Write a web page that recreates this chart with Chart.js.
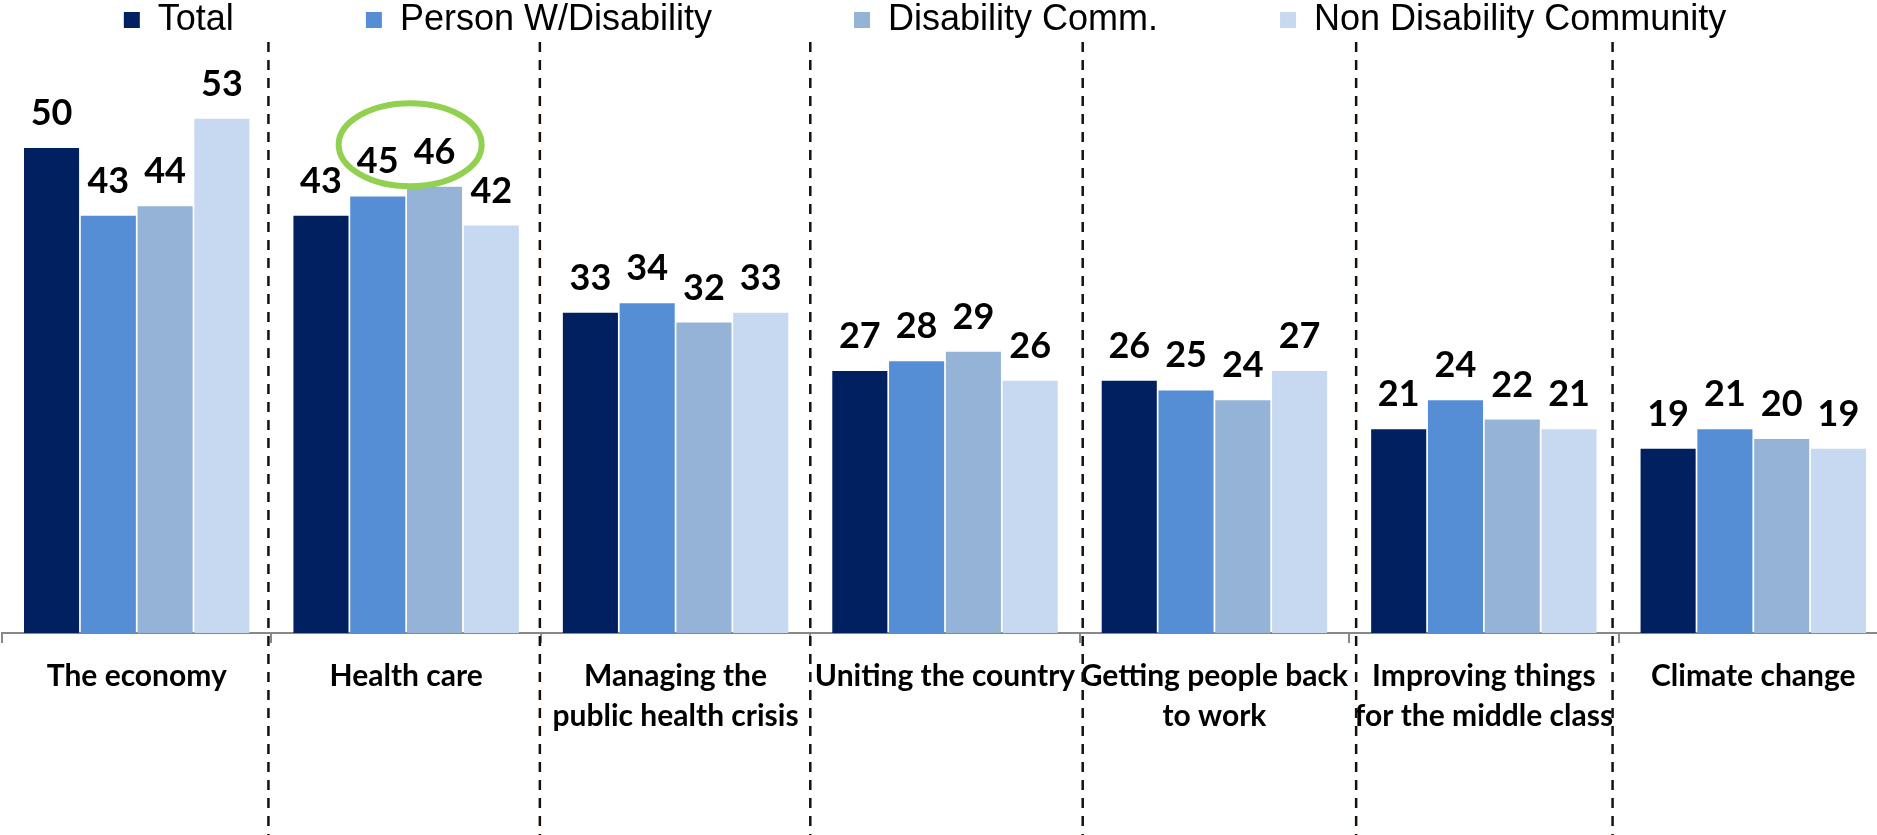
<!DOCTYPE html>
<html>
<head>
<meta charset="utf-8">
<script src="https://cdn.jsdelivr.net/npm/chart.js@4.4.1/dist/chart.umd.min.js"></script>
<style>
  html, body { margin: 0; padding: 0; background: #ffffff; overflow: hidden; }
  #wrap { width: 1888px; height: 835px; }
</style>
</head>
<body>
<div id="wrap"><canvas id="c" width="1888" height="835"></canvas></div>
<script>
// ---- data ----
const categories = [
  "The economy",
  "Health care",
  ["Managing the", "public health crisis"],
  "Uniting the country",
  ["Getting people back", "to work"],
  ["Improving things", "for the middle class"],
  "Climate change"
];
const seriesNames = ["Total", "Person W/Disability", "Disability Comm.", "Non Disability Community"];
const totalValues = [50, 43, 33, 27, 26, 21, 19];
const personWDisabilityValues = [43, 45, 34, 28, 25, 24, 21];
const disabilityCommValues = [44, 46, 32, 29, 24, 22, 20];
const nonDisabilityCommunityValues = [53, 42, 33, 26, 27, 21, 19];

const seriesColors = ["#002060", "#558ED5", "#95B3D7", "#C6D9F1"];
const legendGaps = [13, 14, 12, 4]; // trailing spaces after each legend entry
const separatorNudges = [-3, -1, 0, 3, 7, -6]; // hand-drawn separators sit slightly off the category boundaries

const valueLabelPlugin = {
  id: 'valueLabels',
  afterDatasetsDraw(chart) {
    const ctx = chart.ctx;
    ctx.save();
    ctx.font = 'bold 36px Lato';
    ctx.fillStyle = '#000000';
    ctx.textAlign = 'center';
    ctx.textBaseline = 'alphabetic';
    chart.data.datasets.forEach((ds, di) => {
      const meta = chart.getDatasetMeta(di);
      meta.data.forEach((el, i) => {
        ctx.fillText(String(ds.data[i]), el.x, el.y - 23);
      });
    });
    ctx.restore();
  }
};

const separatorPlugin = {
  id: 'separators',
  afterDraw(chart) {
    const ctx = chart.ctx;
    const xs = chart.scales.x;
    ctx.save();
    ctx.strokeStyle = '#1a1008';
    ctx.lineWidth = 2.5;
    ctx.setLineDash([10, 8]);
    for (let i = 1; i < categories.length; i++) {
      const x = (xs.getPixelForTick(i - 1) + xs.getPixelForTick(i)) / 2 + separatorNudges[i - 1];
      ctx.beginPath();
      ctx.moveTo(x, 42);
      ctx.lineTo(x, chart.height);
      ctx.stroke();
    }
    ctx.restore();
  }
};

const highlightPlugin = {
  id: 'highlight',
  afterDraw(chart) {
    const a = chart.getDatasetMeta(1).data[1];
    const b = chart.getDatasetMeta(2).data[1];
    if (!a || !b) return;
    const ctx = chart.ctx;
    ctx.save();
    ctx.strokeStyle = '#92D050';
    ctx.lineWidth = 6;
    ctx.beginPath();
    ctx.ellipse((a.x + b.x) / 2 + 4, b.y - 42, 71.5, 41.5, 0, 0, Math.PI * 2);
    ctx.stroke();
    ctx.restore();
  }
};

const valueSets = [totalValues, personWDisabilityValues, disabilityCommValues, nonDisabilityCommunityValues];

new Chart(document.getElementById('c'), {
  type: 'bar',
  data: {
    labels: categories,
    datasets: seriesNames.map((name, i) => ({
      label: name,
      data: valueSets[i],
      backgroundColor: seriesColors[i],
      borderWidth: 0,
      barPercentage: 0.97,
      categoryPercentage: 0.843
    }))
  },
  options: {
    responsive: false,
    animation: false,
    layout: { padding: { left: 2, right: 0, top: 0, bottom: 0 } },
    plugins: {
      tooltip: { enabled: false },
      legend: {
        display: true,
        position: 'top',
        labels: {
          font: { family: 'Liberation Sans', size: 36 },
          color: '#000000',
          boxWidth: 16,
          boxHeight: 16,
          padding: 2,
          generateLabels(chart) {
            const items = Chart.defaults.plugins.legend.labels.generateLabels(chart);
            items.forEach((it, i) => {
              it.text = it.text + ' '.repeat(legendGaps[i]);
              it.lineWidth = 0;
            });
            return items;
          }
        }
      }
    },
    scales: {
      x: {
        grid: {
          display: true,
          drawOnChartArea: false,
          drawTicks: true,
          tickLength: 10,
          color: '#888888',
          lineWidth: 2,
          offset: true
        },
        border: { display: true, color: '#888888', width: 2 },
        ticks: {
          autoSkip: false,
          maxRotation: 0,
          minRotation: 0,
          padding: 13,
          color: '#000000',
          font: { family: 'Lato', size: 30, weight: 'bold', lineHeight: '40px' }
        },
        afterFit(scale) { scale.height = 202; }
      },
      y: {
        display: false,
        min: 0,
        max: 60.3
      }
    }
  },
  plugins: [valueLabelPlugin, separatorPlugin, highlightPlugin]
});
</script>
</body>
</html>
